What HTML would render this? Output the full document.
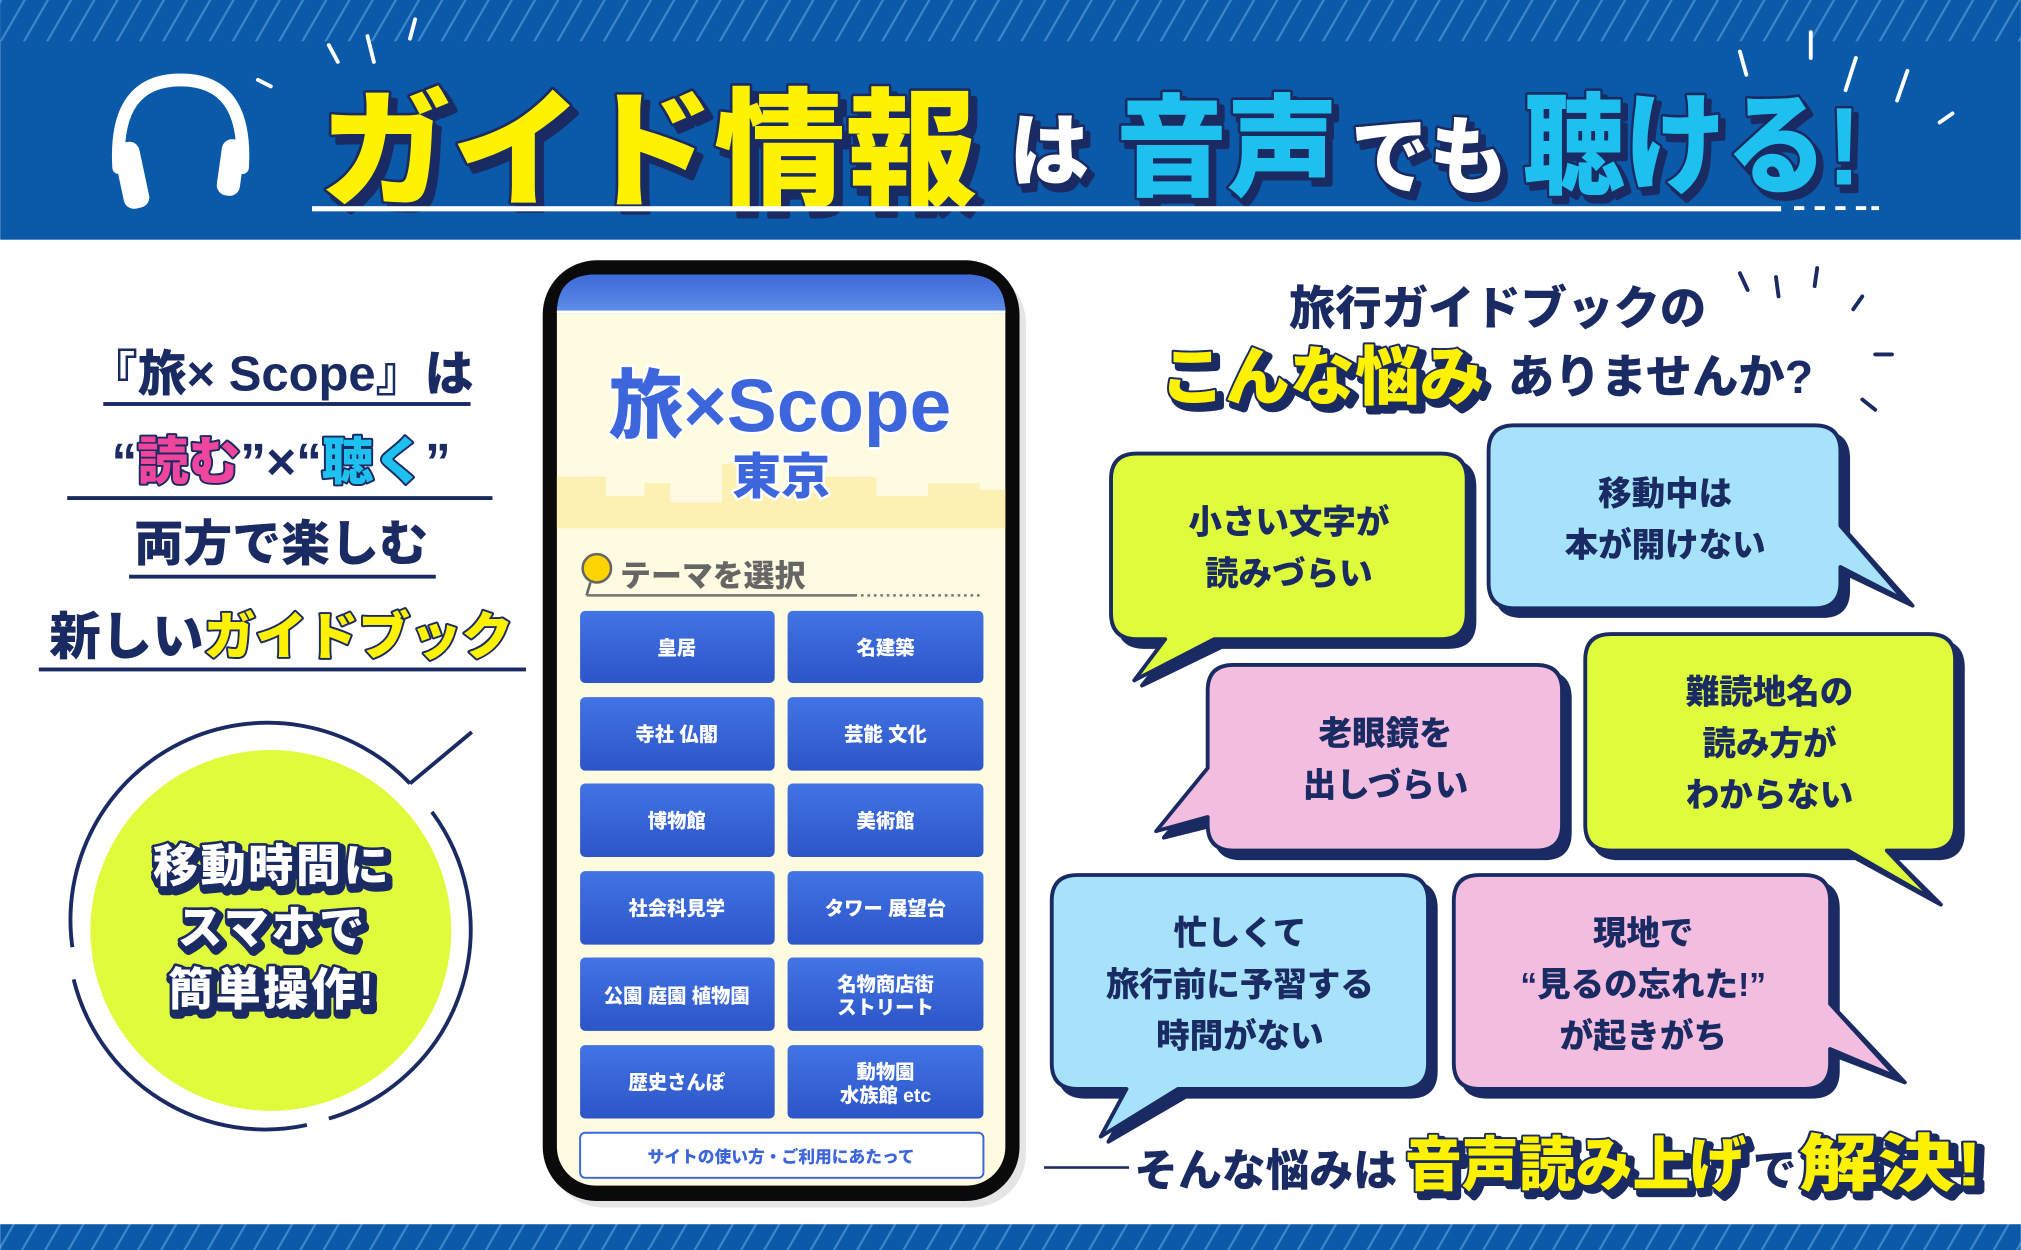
<!DOCTYPE html>
<html><head><meta charset="utf-8"><style>
html,body{margin:0;padding:0;background:#fff;}
svg{display:block;}
text{font-family:"Liberation Sans","Noto Sans CJK JP",sans-serif;font-weight:900;}
.o{paint-order:stroke;stroke-linejoin:round;}
</style></head><body>
<svg width="2021" height="1250" viewBox="0 0 1568 970" xmlns="http://www.w3.org/2000/svg">
<defs>
<pattern id="st" width="18" height="32" patternUnits="userSpaceOnUse" patternTransform="skewX(-30)">
<rect width="18" height="32" fill="#0b59a9"/><rect x="0" width="2" height="32" fill="#3d86c8"/>
</pattern>
<linearGradient id="btn" x1="0" y1="0" x2="0" y2="1"><stop offset="0" stop-color="#4274e4"/><stop offset="1" stop-color="#2c55c8"/></linearGradient>
<linearGradient id="hdr" x1="0" y1="0" x2="0" y2="1"><stop offset="0" stop-color="#3f69d9"/><stop offset="1" stop-color="#5a8ee6"/></linearGradient>
</defs>
<rect x="0" y="0" width="1568" height="186" fill="#0b59a9"/>
<rect x="0" y="0" width="1568" height="32" fill="url(#st)"/>
<rect x="0" y="950" width="1568" height="20" fill="url(#st)"/>
<g fill="none" stroke="#fff" stroke-width="10" stroke-linecap="round">
<path d="M92 130 Q88 62 140 62 Q192 62 188 130"/>
</g>
<rect x="92" y="110" width="20" height="52" rx="8" fill="#fff" transform="rotate(-12 102 136)"/>
<rect x="170" y="108" width="18" height="44" rx="8" fill="#fff" transform="rotate(8 179 130)"/>
<g stroke="#fff" stroke-width="3" stroke-linecap="round">
<line x1="255" y1="35" x2="262" y2="48"/><line x1="285" y1="28" x2="290" y2="48"/><line x1="322" y1="15" x2="318" y2="30"/>
<line x1="200" y1="62" x2="210" y2="67"/><line x1="1350" y1="40" x2="1355" y2="58"/><line x1="1405" y1="25" x2="1405" y2="45"/>
<line x1="1440" y1="45" x2="1432" y2="70"/><line x1="1480" y1="55" x2="1472" y2="78"/><line x1="1515" y1="88" x2="1505" y2="95"/>
</g>
<g class="o" stroke="#1a2a62" stroke-width="4">
<text x="253" y="158" font-size="100" fill="#1a2a62" textLength="510" lengthAdjust="spacingAndGlyphs">ガイド情報</text>
<text x="248" y="152" font-size="100" fill="#fff200" textLength="510" lengthAdjust="spacingAndGlyphs">ガイド情報</text>
<text x="787" y="144" font-size="62" fill="#1a2a62">は</text>
<text x="783" y="139" font-size="62" fill="#fff">は</text>
<text x="870" y="150" font-size="86" fill="#1a2a62" textLength="172" lengthAdjust="spacingAndGlyphs">音声</text>
<text x="866" y="145" font-size="86" fill="#1ec0ef" textLength="172" lengthAdjust="spacingAndGlyphs">音声</text>
<text x="1052" y="150" font-size="66" fill="#1a2a62" textLength="122" lengthAdjust="spacingAndGlyphs">でも</text>
<text x="1048" y="145" font-size="66" fill="#fff" textLength="122" lengthAdjust="spacingAndGlyphs">でも</text>
<text x="1186" y="148" font-size="86" fill="#1a2a62" textLength="262" lengthAdjust="spacingAndGlyphs">聴ける!</text>
<text x="1182" y="143" font-size="86" fill="#1ec0ef" textLength="262" lengthAdjust="spacingAndGlyphs">聴ける!</text>
</g>
<rect x="242" y="160" width="1140" height="4" fill="#fff"/>
<g fill="#fff"><rect x="1392" y="160" width="8" height="3"/><rect x="1408" y="160" width="8" height="3"/><rect x="1424" y="160" width="8" height="3"/><rect x="1440" y="160" width="8" height="3"/><rect x="1452" y="160" width="6" height="3"/></g>

<g fill="#1a2a62" text-anchor="middle">
<text x="218" y="303" font-size="38" font-weight="700">『旅× Scope』は</text>
<rect x="80" y="312" width="285" height="3"/>
<text x="218" y="372" font-size="40">“<tspan fill="#f0459c" class="o" stroke="#1a2a62" stroke-width="3">読む</tspan>”×“<tspan fill="#1ec0ef" class="o" stroke="#1a2a62" stroke-width="3">聴く</tspan>”</text>
<rect x="52" y="385" width="330" height="3"/>
<text x="218" y="435" font-size="38" font-weight="700">両方で楽しむ</text>
<rect x="100" y="446" width="238" height="3"/>
<text x="218" y="508" font-size="40" font-weight="700">新しい<tspan fill="#fff200" class="o" stroke="#1a2a62" stroke-width="3">ガイドブック</tspan></text>
<rect x="30" y="518" width="378" height="3"/>
</g>
<circle cx="210" cy="722" r="140" fill="#dffb3b"/>
<path d="M56 735 A153 153 0 0 1 318 608" fill="none" stroke="#1a2a62" stroke-width="3"/>
<path d="M335 630 A153 153 0 0 1 255 868" fill="none" stroke="#1a2a62" stroke-width="3"/>
<path d="M238 873 A153 153 0 0 1 57 760" fill="none" stroke="#1a2a62" stroke-width="3"/>
<path d="M318 608 L366 568" stroke="#1a2a62" stroke-width="3"/>
<g text-anchor="middle" font-size="35" class="o" letter-spacing="2">
<text x="213" y="687" fill="#1a2a62" stroke="#1a2a62" stroke-width="8">移動時間に</text>
<text x="211" y="684" fill="#fff" stroke="#1a2a62" stroke-width="4">移動時間に</text>
<text x="213" y="735" fill="#1a2a62" stroke="#1a2a62" stroke-width="8">スマホで</text>
<text x="211" y="732" fill="#fff" stroke="#1a2a62" stroke-width="4">スマホで</text>
<text x="213" y="783" fill="#1a2a62" stroke="#1a2a62" stroke-width="8">簡単操作!</text>
<text x="211" y="780" fill="#fff" stroke="#1a2a62" stroke-width="4">簡単操作!</text>
</g>

<rect x="426" y="209" width="370" height="728" rx="42" fill="#ccc" opacity="0.5"/>
<rect x="421" y="202" width="370" height="730" rx="42" fill="#0a0a0a"/>
<rect x="432" y="213" width="348" height="707" rx="30" fill="#fefbe0"/>
<path d="M432 243 L432 243 Q432 213 462 213 L750 213 Q780 213 780 243 Z" fill="url(#hdr)"/>
<rect x="432" y="238" width="348" height="3" fill="#5b8be6"/>
<rect x="432" y="241" width="348" height="2" fill="#fff"/>
<path d="M432 410 L432 370 L470 370 L470 385 L500 385 L500 375 L520 375 L520 390 L560 390 L560 360 L600 360 L600 380 L640 380 L640 370 L680 370 L680 385 L720 385 L720 375 L760 375 L760 380 L780 380 L780 410 Z" fill="#fbeea8" opacity="0.8"/>
<text x="605" y="335" text-anchor="middle" font-size="58" font-weight="700" fill="#3d66dc" class="o" stroke="#fff" stroke-width="4">旅×Scope</text>
<text x="606" y="383" text-anchor="middle" font-size="38" fill="#3d66dc" class="o" stroke="#fff" stroke-width="4">東京</text>
<circle cx="463" cy="441" r="11" fill="#ffd400" stroke="#666" stroke-width="2"/>
<line x1="458" y1="452" x2="455" y2="462" stroke="#666" stroke-width="2"/>
<text x="481" y="455" font-size="24" fill="#666">テーマを選択</text>
<rect x="455" y="461" width="210" height="2" fill="#777"/>
<line x1="668" y1="462" x2="760" y2="462" stroke="#777" stroke-width="2" stroke-dasharray="2 3"/>
<g fill="url(#btn)">
<rect x="450" y="474" width="151" height="56" rx="4"/><rect x="611" y="474" width="152" height="56" rx="4"/>
<rect x="450" y="541" width="151" height="57" rx="4"/><rect x="611" y="541" width="152" height="57" rx="4"/>
<rect x="450" y="608" width="151" height="57" rx="4"/><rect x="611" y="608" width="152" height="57" rx="4"/>
<rect x="450" y="676" width="151" height="57" rx="4"/><rect x="611" y="676" width="152" height="57" rx="4"/>
<rect x="450" y="743" width="151" height="57" rx="4"/><rect x="611" y="743" width="152" height="57" rx="4"/>
<rect x="450" y="811" width="151" height="57" rx="4"/><rect x="611" y="811" width="152" height="57" rx="4"/>
</g>
<g fill="#fff" font-size="15" text-anchor="middle" font-weight="700">
<text x="525" y="508">皇居</text><text x="687" y="508">名建築</text>
<text x="525" y="575">寺社 仏閣</text><text x="687" y="575">芸能 文化</text>
<text x="525" y="642">博物館</text><text x="687" y="642">美術館</text>
<text x="525" y="710">社会科見学</text><text x="687" y="710">タワー 展望台</text>
<text x="525" y="778">公園 庭園 植物園</text><text x="687" y="769">名物商店街</text><text x="687" y="787">ストリート</text>
<text x="525" y="845">歴史さんぽ</text><text x="687" y="837">動物園</text><text x="687" y="855">水族館 etc</text>
</g>
<rect x="450" y="879" width="313" height="35" rx="4" fill="#fff" stroke="#3d66dc" stroke-width="1.5"/>
<text x="606" y="902" text-anchor="middle" font-size="13" font-weight="400" fill="#3d66dc">サイトの使い方・ご利用にあたって</text>

<text x="1162" y="252" text-anchor="middle" font-size="36" fill="#1a2a62" font-weight="700">旅行ガイドブックの</text>
<g class="o">
<text x="904" y="314" font-size="50" fill="#1a2a62" stroke="#1a2a62" stroke-width="6" textLength="252" lengthAdjust="spacingAndGlyphs">こんな悩み</text>
<text x="900" y="310" font-size="50" fill="#fff200" stroke="#1a2a62" stroke-width="3" textLength="252" lengthAdjust="spacingAndGlyphs">こんな悩み</text>
</g>
<text x="1170" y="305" font-size="36" fill="#1a2a62" font-weight="700">ありませんか?</text>
<g stroke="#1a2a62" stroke-width="3" stroke-linecap="round">
<line x1="1350" y1="212" x2="1356" y2="225"/><line x1="1378" y1="215" x2="1380" y2="230"/><line x1="1410" y1="208" x2="1408" y2="222"/><line x1="1445" y1="230" x2="1438" y2="240"/>
<line x1="1455" y1="275" x2="1468" y2="275"/><line x1="1445" y1="310" x2="1455" y2="318"/>
</g>

<g stroke="#1a2a62" stroke-width="3" stroke-linejoin="round">
<path d="M888 358 H1124 Q1144 358 1144 378 V482 Q1144 502 1124 502 H948 L886 532 L910 502 H888 Q868 502 868 482 V378 Q868 358 888 358Z" fill="#1a2a62"/>
<path d="M882 352 H1118 Q1138 352 1138 372 V476 Q1138 496 1118 496 H942 L880 528 L904 496 H882 Q862 496 862 476 V372 Q862 352 882 352Z" fill="#defb3c"/>
<path d="M1181 336 H1414 Q1434 336 1434 356 V414 L1484 470 L1434 446 V458 Q1434 478 1414 478 H1181 Q1161 478 1161 458 V356 Q1161 336 1181 336Z" fill="#1a2a62"/>
<path d="M1175 330 H1408 Q1428 330 1428 350 V408 L1478 466 L1428 440 V452 Q1428 472 1408 472 H1175 Q1155 472 1155 452 V350 Q1155 330 1175 330Z" fill="#a6e3fb"/>
<path d="M963 522 H1198 Q1218 522 1218 542 V646 Q1218 666 1198 666 H963 Q943 666 943 646 V640 L903 650 L943 602 V542 Q943 522 963 522Z" fill="#1a2a62"/>
<path d="M957 516 H1192 Q1212 516 1212 536 V640 Q1212 660 1192 660 H957 Q937 660 937 640 V634 L897 645 L937 596 V536 Q937 516 957 516Z" fill="#f3bde0"/>
<path d="M1256 498 H1503 Q1523 498 1523 518 V646 Q1523 666 1503 666 H1470 L1506 702 L1440 666 H1256 Q1236 666 1236 646 V518 Q1236 498 1256 498Z" fill="#1a2a62"/>
<path d="M1250 492 H1497 Q1517 492 1517 512 V640 Q1517 660 1497 660 H1464 L1500 698 L1434 660 H1250 Q1230 660 1230 640 V512 Q1230 492 1250 492Z" fill="#defb3c"/>
<path d="M842 685 H1094 Q1114 685 1114 705 V831 Q1114 851 1094 851 H920 L860 886 L880 851 H842 Q822 851 822 831 V705 Q822 685 842 685Z" fill="#1a2a62"/>
<path d="M836 679 H1088 Q1108 679 1108 699 V825 Q1108 845 1088 845 H914 L854 882 L874 845 H836 Q816 845 816 825 V699 Q816 679 836 679Z" fill="#a6e3fb"/>
<path d="M1154 685 H1406 Q1426 685 1426 705 V785 L1478 840 L1426 820 V831 Q1426 851 1406 851 H1154 Q1134 851 1134 831 V705 Q1134 685 1154 685Z" fill="#1a2a62"/>
<path d="M1148 679 H1400 Q1420 679 1420 699 V779 L1472 836 L1420 814 V825 Q1420 845 1400 845 H1148 Q1128 845 1128 825 V699 Q1128 679 1148 679Z" fill="#f3bde0"/>
</g>
<g fill="#1a2a62" font-size="26" font-weight="700" text-anchor="middle">
<text x="1000" y="414">小さい文字が</text><text x="1000" y="454">読みづらい</text>
<text x="1292" y="392">移動中は</text><text x="1292" y="432">本が開けない</text>
<text x="1075" y="578">老眼鏡を</text><text x="1075" y="618">出しづらい</text>
<text x="1373" y="546">難読地名の</text><text x="1373" y="586">読み方が</text><text x="1373" y="626">わからない</text>
<text x="962" y="733">忙しくて</text><text x="962" y="773">旅行前に予習する</text><text x="962" y="813">時間がない</text>
<text x="1275" y="733">現地で</text><text x="1275" y="773">“見るの忘れた!”</text><text x="1275" y="813">が起きがち</text>
</g>

<rect x="810" y="905" width="66" height="2" fill="#1a2a62"/>
<text x="880" y="920" font-size="34" fill="#1a2a62" font-weight="700">そんな悩みは</text>
<g class="o">
<text x="1094" y="924" font-size="46" fill="#1a2a62" stroke="#1a2a62" stroke-width="6" textLength="265" lengthAdjust="spacingAndGlyphs">音声読み上げ</text>
<text x="1090" y="920" font-size="46" fill="#fff200" stroke="#1a2a62" stroke-width="3" textLength="265" lengthAdjust="spacingAndGlyphs">音声読み上げ</text>
</g>
<text x="1360" y="920" font-size="34" fill="#1a2a62" font-weight="700">で</text>
<g class="o">
<text x="1400" y="924" font-size="48" fill="#1a2a62" stroke="#1a2a62" stroke-width="6" textLength="142" lengthAdjust="spacingAndGlyphs">解決!</text>
<text x="1396" y="920" font-size="48" fill="#fff200" stroke="#1a2a62" stroke-width="3" textLength="142" lengthAdjust="spacingAndGlyphs">解決!</text>
</g>
</svg>
</body></html>
